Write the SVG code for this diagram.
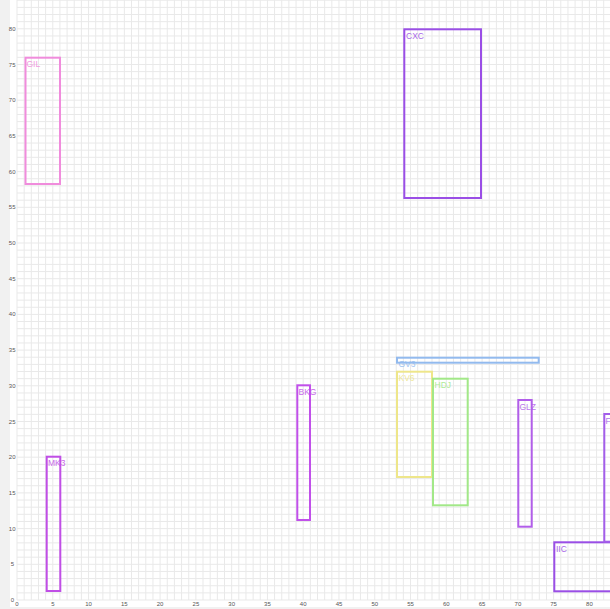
<svg xmlns="http://www.w3.org/2000/svg" width="610" height="609" viewBox="0 0 610 609">
<style>
.grid{stroke:#e9e9e9;stroke-width:1;fill:none}
.ax{font-family:"Liberation Sans",Arial,sans-serif;font-size:6px;fill:#555}
.yl{text-anchor:end}
.xl{text-anchor:middle}
.box{fill:none;stroke-width:2}
.lbl{font-family:"Liberation Sans",Arial,sans-serif;font-size:8.5px;opacity:0.85}
</style>
<rect x="0" y="0" width="610" height="609" fill="#ffffff"/>
<rect x="0" y="0" width="10" height="609" fill="#f1f1f1"/>
<rect x="0" y="607" width="610" height="2" fill="#f1f1f1"/>
<g id="grid">
<path class="grid" d="M17 0V600M24.16 0V600M31.31 0V600M38.47 0V600M45.62 0V600M52.78 0V600M59.93 0V600M67.09 0V600M74.24 0V600M81.4 0V600M88.55 0V600M95.71 0V600M102.86 0V600M110.02 0V600M117.17 0V600M124.33 0V600M131.48 0V600M138.64 0V600M145.79 0V600M152.95 0V600M160.1 0V600M167.26 0V600M174.41 0V600M181.57 0V600M188.72 0V600M195.88 0V600M203.03 0V600M210.19 0V600M217.34 0V600M224.5 0V600M231.65 0V600M238.81 0V600M245.96 0V600M253.12 0V600M260.27 0V600M267.43 0V600M274.58 0V600M281.74 0V600M288.89 0V600M296.05 0V600M303.2 0V600M310.36 0V600M317.51 0V600M324.67 0V600M331.82 0V600M338.98 0V600M346.13 0V600M353.29 0V600M360.44 0V600M367.6 0V600M374.75 0V600M381.91 0V600M389.06 0V600M396.22 0V600M403.37 0V600M410.53 0V600M417.68 0V600M424.84 0V600M431.99 0V600M439.15 0V600M446.3 0V600M453.46 0V600M460.61 0V600M467.77 0V600M474.92 0V600M482.08 0V600M489.23 0V600M496.39 0V600M503.54 0V600M510.7 0V600M517.85 0V600M525.01 0V600M532.16 0V600M539.32 0V600M546.47 0V600M553.63 0V600M560.78 0V600M567.94 0V600M575.09 0V600M582.25 0V600M589.4 0V600M596.56 0V600M603.71 0V600"/>
<path class="grid" d="M17 600H610M17 592.86H610M17 585.72H610M17 578.58H610M17 571.44H610M17 564.3H610M17 557.16H610M17 550.02H610M17 542.88H610M17 535.74H610M17 528.6H610M17 521.46H610M17 514.32H610M17 507.18H610M17 500.04H610M17 492.9H610M17 485.76H610M17 478.62H610M17 471.48H610M17 464.34H610M17 457.2H610M17 450.06H610M17 442.92H610M17 435.78H610M17 428.64H610M17 421.5H610M17 414.36H610M17 407.22H610M17 400.08H610M17 392.94H610M17 385.8H610M17 378.66H610M17 371.52H610M17 364.38H610M17 357.24H610M17 350.1H610M17 342.96H610M17 335.82H610M17 328.68H610M17 321.54H610M17 314.4H610M17 307.26H610M17 300.12H610M17 292.98H610M17 285.84H610M17 278.7H610M17 271.56H610M17 264.42H610M17 257.28H610M17 250.14H610M17 243H610M17 235.86H610M17 228.72H610M17 221.58H610M17 214.44H610M17 207.3H610M17 200.16H610M17 193.02H610M17 185.88H610M17 178.74H610M17 171.6H610M17 164.46H610M17 157.32H610M17 150.18H610M17 143.04H610M17 135.9H610M17 128.76H610M17 121.62H610M17 114.48H610M17 107.34H610M17 100.2H610M17 93.06H610M17 85.92H610M17 78.78H610M17 71.64H610M17 64.5H610M17 57.36H610M17 50.22H610M17 43.08H610M17 35.94H610M17 28.8H610M17 21.66H610M17 14.52H610M17 7.38H610M17 0.24H610"/>
</g>
<g id="y-axis" class="ax yl">
<text x="14" y="601.5">0</text>
<text x="14" y="566.3">5</text>
<text x="15.5" y="530.6">10</text>
<text x="15.5" y="494.9">15</text>
<text x="15.5" y="459.2">20</text>
<text x="15.5" y="423.5">25</text>
<text x="15.5" y="387.8">30</text>
<text x="15.5" y="352.1">35</text>
<text x="15.5" y="316.4">40</text>
<text x="15.5" y="280.7">45</text>
<text x="15.5" y="245">50</text>
<text x="15.5" y="209.3">55</text>
<text x="15.5" y="173.6">60</text>
<text x="15.5" y="137.9">65</text>
<text x="15.5" y="102.2">70</text>
<text x="15.5" y="66.5">75</text>
<text x="15.5" y="30.8">80</text>
</g>
<g id="x-axis" class="ax xl">
<text x="17" y="605.5">0</text>
<text x="52.8" y="605.5">5</text>
<text x="88.6" y="605.5">10</text>
<text x="124.3" y="605.5">15</text>
<text x="160.1" y="605.5">20</text>
<text x="195.9" y="605.5">25</text>
<text x="231.7" y="605.5">30</text>
<text x="267.4" y="605.5">35</text>
<text x="303.2" y="605.5">40</text>
<text x="339" y="605.5">45</text>
<text x="374.8" y="605.5">50</text>
<text x="410.5" y="605.5">55</text>
<text x="446.3" y="605.5">60</text>
<text x="482.1" y="605.5">65</text>
<text x="517.9" y="605.5">70</text>
<text x="553.6" y="605.5">75</text>
<text x="589.4" y="605.5">80</text>
</g>
<g id="GIL"><rect class="box" x="25.5" y="57.7" width="34.5" height="126.3" stroke="#f08cdc"/><text class="lbl" x="26.5" y="67" fill="#f08cdc">GIL</text></g>
<g id="CXC"><rect class="box" x="404.3" y="29.3" width="76.7" height="168.7" stroke="#9a4ee6"/><text class="lbl" x="406" y="39" fill="#9a4ee6">CXC</text></g>
<g id="MK3"><rect class="box" x="46.7" y="456.7" width="13.6" height="134.3" stroke="#c04ee6"/><text class="lbl" x="48" y="466" fill="#c04ee6">MK3</text></g>
<g id="BKG"><rect class="box" x="297.3" y="385.3" width="12.7" height="134.7" stroke="#c150ea"/><text class="lbl" x="298.5" y="395" fill="#c150ea">BKG</text></g>
<g id="KV6"><rect class="box" x="397" y="371.7" width="35" height="105.3" stroke="#eee68a"/><text class="lbl" x="398.5" y="381" fill="#eee68a">KV6</text></g>
<g id="HDJ"><rect class="box" x="433" y="378.7" width="34.7" height="126.6" stroke="#a2e888"/><text class="lbl" x="434.5" y="388" fill="#a2e888">HDJ</text></g>
<g id="GV3"><rect class="box" x="397" y="357.7" width="141.7" height="5" stroke="#92baee"/><text class="lbl" x="398.5" y="366.5" fill="#92baee">GV3</text></g>
<g id="GLZ"><rect class="box" x="518.3" y="400" width="13.4" height="126.7" stroke="#b25eea"/><text class="lbl" x="519.5" y="409.5" fill="#b25eea">GLZ</text></g>
<g id="IIC"><rect class="box" x="554.3" y="542.3" width="60" height="49" stroke="#9a4ee6"/><text class="lbl" x="556" y="552" fill="#9a4ee6">IIC</text></g>
<g id="F"><rect class="box" x="604.3" y="414" width="20" height="127.7" stroke="#a35eea"/><text class="lbl" x="605.5" y="423.5" fill="#a35eea">F</text></g>
<g id="connectors"></g>
</svg>
